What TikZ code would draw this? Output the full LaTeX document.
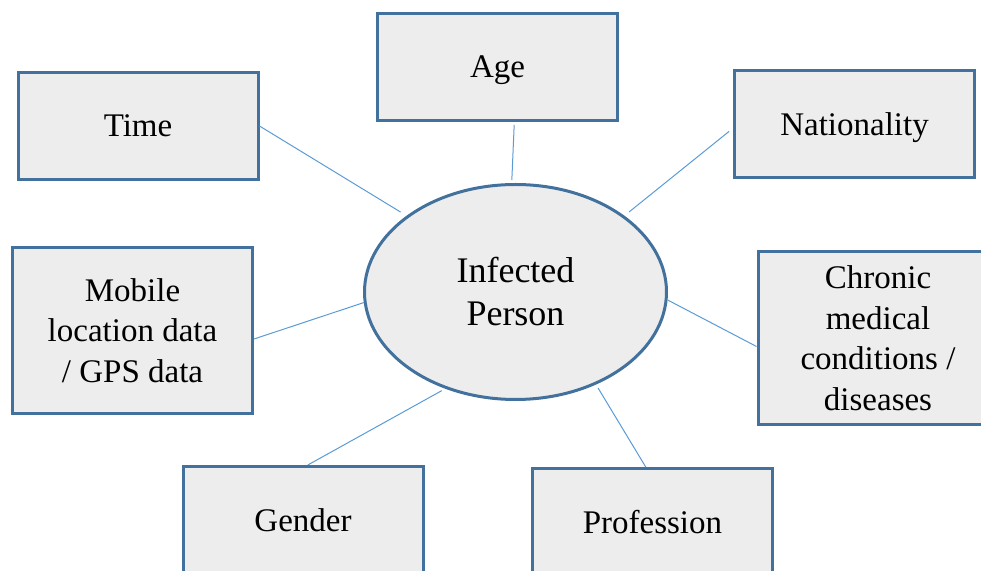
\documentclass[tikz,border=0pt]{standalone}
\usepackage{fontspec}
\setmainfont{Liberation Serif}
\usepackage{tikz}
\usetikzlibrary{shapes.geometric}
\definecolor{boxline}{HTML}{41719C}
\definecolor{boxfill}{HTML}{EDEDED}
\definecolor{linkline}{HTML}{5B9BD5}
\def\txt{\fontsize{16.5}{20.25}\selectfont}
\def\big{\fontsize{18}{21.5}\selectfont}

\begin{document}
\begin{tikzpicture}[x=0.5pt, y=-0.5pt,
	factor/.style={draw=boxline, line width=1.5pt, fill=boxfill, minimum width=120pt, minimum height=53.5pt, inner sep=0pt, text depth=0pt, align=center, font=\txt},
	person/.style={ellipse, draw=boxline, line width=1.5pt, fill=boxfill, minimum width=151pt, minimum height=107.5pt, inner sep=0pt, align=center, font=\big},
	link/.style={draw=linkline, line width=0.5pt}]
	\useasboundingbox (0,0) rectangle (981,571);
	\node[person] (ip) at (515.5,292) {Infected\\Person};
	\node[factor] (time) at (138,126) {Time};
	\node[factor] (age) at (497.5,67) {Age};
	\node[factor] (nat) at (854.5,124) {Nationality};
	\node[factor, minimum height=83pt] (mob) at (132.5,330.5) {Mobile\\location data\\/ GPS data};
	\node[factor, minimum height=86.5pt] (chr) at (878,338) {Chronic\\medical\\conditions /\\diseases};
	\node[factor] (gen) at (303,520) {Gender};
	\node[factor] (pro) at (652.5,522) {Profession};
	\draw[link, shorten >=3.5pt] (time.east) -- (ip.145);
	\draw[link, shorten <=1.5pt, shorten >=1.5pt] (age.-73) -- (ip.92);
	\draw[link, shorten <=2.5pt, shorten >=3pt] (nat.182) -- (ip.35);
	\draw[link] (mob.-4) -- (ip.184);
	\draw[link] (chr.184) -- (ip.-3);
	\draw[link, shorten >=2pt] (gen.85) -- (ip.-126);
	\draw[link, shorten >=2pt] (pro.97) -- (ip.-49);
\end{tikzpicture}
\end{document}
